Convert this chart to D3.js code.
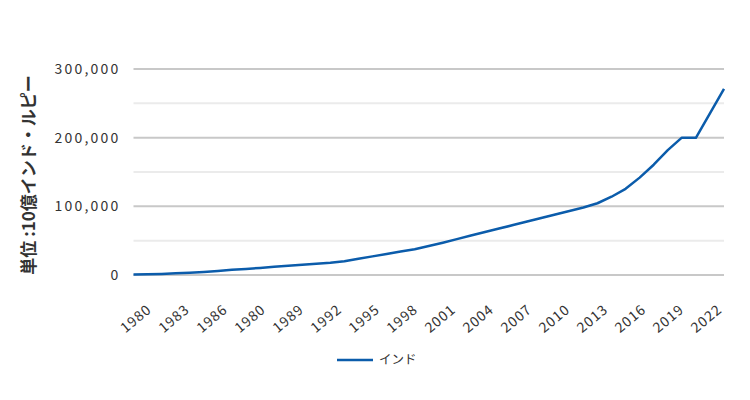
<!DOCTYPE html>
<html>
<head>
<meta charset="utf-8">
<script src="https://cdn.jsdelivr.net/npm/d3@7"></script>
<style>
  html, body { margin: 0; padding: 0; background: #fff; }
  svg { display: block; font-family: "Noto Sans CJK JP", "Noto Sans", sans-serif; }
</style>
</head>
<body>
<svg id="chart" width="750" height="400"></svg>
<script>
// ---- data ----
const years = [1980, 1981, 1982, 1983, 1984, 1985, 1986, 1987, 1988, 1989,
               1990, 1991, 1992, 1993, 1994, 1995, 1996, 1997, 1998, 1999,
               2000, 2001, 2002, 2003, 2004, 2005, 2006, 2007, 2008, 2009,
               2010, 2011, 2012, 2013, 2014, 2015, 2016, 2017, 2018, 2019,
               2020, 2021, 2022];
const india = [900, 1200, 1600, 2400, 3300, 4500, 6000, 7500, 8900, 10300,
               11900, 13600, 15100, 16500, 17900, 20000, 23600, 27100, 30600, 34100,
               37600, 42100, 47000, 52200, 57400, 62500, 67600, 72700, 77800, 82900,
               88000, 93100, 98200, 104500, 114000, 125500, 141800, 160600, 181900, 200000,
               199800, 235500, 271000];
const xTickLabels = ["1980", "1983", "1986", "1980", "1989", "1992", "1995", "1998",
                     "2001", "2004", "2007", "2010", "2013", "2016", "2019", "2022"];
const yMajorTicks = [0, 100000, 200000, 300000];
const yMinorTicks = [50000, 150000, 250000];
const seriesName = "インド";
const yTitle = "単位 :10億インド・ルピー";

// ---- layout ----
const svg = d3.select("#chart");
const x = d3.scaleLinear().domain([1980, 2022]).range([133.5, 724]);
const y = d3.scaleLinear().domain([0, 300000]).range([275, 69]);
const xLab = d3.scalePoint().domain(d3.range(xTickLabels.length)).range([133.5, 704]);

// grid lines
svg.append("g").selectAll("line.minor").data(yMinorTicks).join("line")
  .attr("x1", x.range()[0]).attr("x2", x.range()[1])
  .attr("y1", d => y(d)).attr("y2", d => y(d))
  .attr("stroke", "#ebebeb").attr("stroke-width", 2);
svg.append("g").selectAll("line.major").data(yMajorTicks).join("line")
  .attr("x1", x.range()[0]).attr("x2", x.range()[1])
  .attr("y1", d => y(d)).attr("y2", d => y(d))
  .attr("stroke", "#c8c8c8").attr("stroke-width", 2);

// y axis labels
const yAxis = d3.axisLeft(y).tickValues(yMajorTicks).tickSize(0).tickPadding(0)
  .tickFormat(d3.format(","));
const yg = svg.append("g").attr("transform", "translate(120.5,0)").call(yAxis);
yg.select(".domain").remove();
yg.selectAll("text").attr("font-size", 14).attr("fill", "#333")
  .attr("letter-spacing", "2.2px")
  .attr("font-family", "'Noto Sans CJK JP', sans-serif");

// y title
svg.append("text")
  .attr("transform", "translate(35,175) rotate(-90)")
  .attr("text-anchor", "middle")
  .attr("font-size", 17).attr("font-weight", "bold").attr("fill", "#333")
  .text(yTitle);

// x labels
svg.append("g").selectAll("text").data(xTickLabels).join("text")
  .attr("transform", (d, i) => `translate(${xLab(i) + 19},311) rotate(-40)`)
  .attr("text-anchor", "end")
  .attr("font-size", 14).attr("fill", "#333").attr("letter-spacing", "1px")
  .text(d => d);

// line
const line = d3.line().x((d, i) => x(years[i])).y(d => y(d));
svg.append("path").datum(india)
  .attr("d", line)
  .attr("fill", "none").attr("stroke", "#0b5cab").attr("stroke-width", 2.5)
  .attr("stroke-linejoin", "round");

// legend
svg.append("line").attr("x1", 337).attr("x2", 373).attr("y1", 360).attr("y2", 360)
  .attr("stroke", "#0b5cab").attr("stroke-width", 2.5);
svg.append("text").attr("x", 379).attr("y", 360).attr("dy", "0.35em")
  .attr("font-size", 12.5).attr("fill", "#333").text(seriesName);
</script>
</body>
</html>
